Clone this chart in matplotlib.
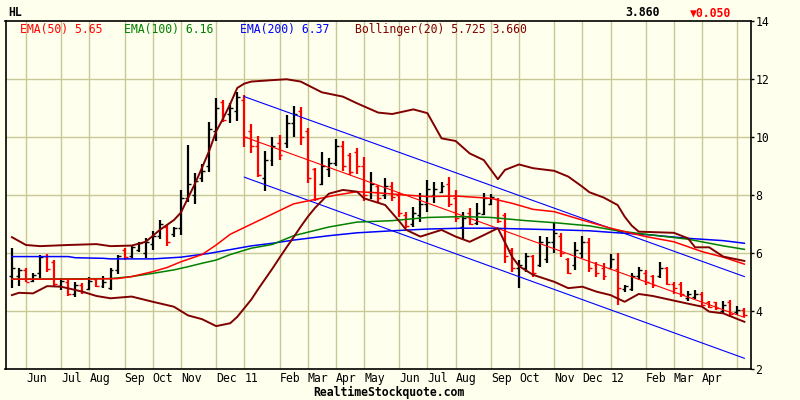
import matplotlib
matplotlib.use("Agg")
import matplotlib.pyplot as plt
import matplotlib.transforms as mtransforms

# weekly OHLC bars (week index 0..104)
opens  = [5.20,5.20,5.40,5.05,5.30,5.90,5.70,4.85,5.00,4.60,4.90,4.75,5.10,4.85,4.80,5.40,6.10,5.90,6.10,6.00,
          6.30,6.60,6.90,6.65,6.85,7.90,8.00,8.60,9.00,10.20,11.20,10.80,10.90,11.30,10.20,9.70,8.60,9.20,9.80,9.80,
          10.50,10.90,10.20,8.90,8.40,8.90,9.10,9.70,9.40,9.50,9.00,8.10,8.30,8.00,8.30,8.00,7.30,7.00,7.30,7.70,
          8.00,8.10,8.40,7.90,6.90,7.40,7.05,7.35,7.70,7.85,7.30,6.10,5.50,5.50,5.90,5.60,5.80,6.40,6.60,5.80,
          5.60,6.00,6.40,5.60,5.50,5.50,5.45,4.75,4.75,5.20,5.30,5.20,5.20,5.50,4.95,4.95,4.45,4.50,4.60,4.30,
          4.30,4.00,4.30,3.95,4.05]
highs  = [6.17,5.50,5.50,5.30,5.93,5.96,5.76,5.15,5.07,4.99,4.96,5.19,5.14,5.22,5.50,5.93,6.19,6.26,6.39,6.51,
          6.76,7.14,6.97,6.91,8.18,9.73,8.75,9.06,10.54,11.37,11.28,11.17,11.57,11.46,10.45,10.05,9.52,10.02,10.08,10.77,
          11.08,11.05,10.31,8.95,9.50,9.27,9.94,9.87,9.44,9.62,9.33,8.79,8.35,8.60,8.44,8.12,7.43,7.60,8.06,8.52,
          8.46,8.46,8.64,8.18,7.43,7.54,7.72,8.06,8.04,7.89,7.39,6.17,5.76,6.01,5.93,6.59,6.57,7.03,6.68,5.82,
          6.39,6.60,6.53,5.70,5.65,5.96,5.99,4.90,5.30,5.53,5.42,5.24,5.70,5.53,5.01,5.01,4.69,4.73,4.67,4.35,
          4.32,4.35,4.38,4.18,4.10]
lows   = [4.81,4.88,4.99,5.01,5.13,5.36,4.87,4.73,4.52,4.50,4.58,4.73,4.84,4.81,4.73,5.27,5.76,5.82,6.05,5.82,
          6.11,6.49,6.26,6.57,6.62,7.77,7.68,8.44,8.81,9.87,10.54,10.48,10.56,9.67,9.44,8.64,8.14,9.02,9.21,9.62,
          10.02,9.73,8.41,7.80,8.35,8.64,9.02,8.83,8.70,8.72,7.80,7.87,7.72,7.87,7.80,7.26,6.86,6.91,7.08,7.43,
          7.72,8.06,7.60,7.08,6.45,6.97,6.98,7.32,7.66,7.03,5.65,5.36,4.79,5.36,5.19,5.53,5.65,6.00,5.88,5.27,
          5.42,5.84,5.36,5.19,5.07,5.48,4.21,4.67,4.69,5.07,4.90,4.79,5.13,4.90,4.58,4.50,4.35,4.42,4.15,4.12,
          4.04,3.92,3.81,3.86,3.81]
closes = [5.50,5.40,5.00,5.25,5.85,5.45,4.95,5.05,4.60,4.90,4.65,5.05,4.85,5.00,5.40,5.90,5.85,6.20,6.35,6.40,
          6.60,7.00,6.40,6.85,7.90,8.40,8.50,8.85,10.30,11.00,10.60,11.00,11.40,10.00,9.70,8.70,9.20,9.70,9.40,10.50,
          10.80,10.00,8.60,7.85,9.00,9.10,9.70,9.00,8.80,9.00,8.00,8.40,7.90,8.30,7.95,7.40,6.95,7.40,7.70,8.20,
          8.20,8.30,7.70,7.20,7.20,7.00,7.40,7.90,7.95,7.10,5.90,5.50,5.60,5.90,5.30,6.40,6.40,6.70,6.00,5.30,
          6.10,6.40,5.50,5.30,5.20,5.80,4.80,4.85,5.20,5.40,5.00,4.90,5.50,4.95,4.80,4.60,4.60,4.60,4.20,4.15,
          4.10,4.20,3.90,4.05,3.86]

# indicator lines (week index, value)
ema50_x = [0,10,15,17,20,22,24,27,29,31,34,37,40,43,46,49,52,55,59,63,68,71,74,77,81,85,90,94,98,101,104]
ema50_v = [5.10,5.10,5.12,5.19,5.36,5.50,5.70,5.95,6.28,6.65,7.00,7.35,7.70,7.85,8.00,8.12,8.08,8.02,7.95,7.97,
           7.89,7.72,7.51,7.43,7.14,6.86,6.57,6.39,6.05,5.86,5.62]
ema100_x = [0,14,17,20,23,25,27,29,31,34,37,40,45,49,54,59,64,68,73,77,82,86,91,96,101,104]
ema100_v = [5.10,5.12,5.19,5.30,5.42,5.53,5.65,5.76,5.95,6.17,6.30,6.60,6.90,7.07,7.12,7.23,7.26,7.23,7.12,7.05,
            6.94,6.77,6.62,6.48,6.25,6.13]
ema200_x = [0,8,9,13,14,20,24,28,31,34,37,40,45,49,54,59,64,68,73,78,82,86,91,96,101,104]
ema200_v = [5.88,5.88,5.84,5.82,5.80,5.80,5.86,5.99,6.12,6.25,6.34,6.45,6.60,6.70,6.77,6.83,6.86,6.86,6.83,6.80,
            6.77,6.70,6.62,6.51,6.43,6.34]
bb_up_x = [0,2,4,8,12,14,17,19,21,23,24,25,26,27,28,29,30,31,32,33,34,37,39,41,44,47,49,52,54,57,59,61,63,65,67,
           69,70,72,74,77,79,81,82,84,86,87,88,89,94,96,97,99,101,104]
bb_up_v = [6.55,6.28,6.24,6.28,6.31,6.24,6.26,6.39,6.80,7.14,7.40,7.90,8.40,8.95,9.52,10.20,10.65,11.15,11.70,11.85,
           11.92,11.97,12.00,11.92,11.55,11.40,11.17,10.85,10.80,10.96,10.83,9.96,9.87,9.44,9.21,8.55,8.87,9.06,8.93,8.84,
           8.64,8.29,8.10,7.92,7.66,7.26,6.95,6.74,6.70,6.51,6.20,6.20,5.88,5.73]
bb_lo_x = [0,1,3,5,7,10,12,14,17,20,23,25,27,29,31,32,33,34,35,36,37,38,39,40,41,42,43,44,45,47,49,50,53,55,56,
           58,61,63,65,67,69,71,72,74,77,79,81,83,85,87,89,91,94,98,99,101,104]
bb_lo_v = [4.55,4.63,4.61,4.86,4.84,4.67,4.52,4.44,4.50,4.32,4.15,3.85,3.72,3.48,3.58,3.80,4.10,4.40,4.77,5.12,
           5.47,5.84,6.20,6.55,6.91,7.25,7.55,7.80,8.05,8.18,8.12,7.89,7.66,7.10,6.80,6.57,6.80,6.57,6.39,6.62,
           6.86,5.88,5.55,5.25,5.01,4.79,4.84,4.67,4.55,4.32,4.59,4.52,4.36,4.15,3.98,3.92,3.63]
# regression channel
reg_x = [33, 104]
reg_up = [11.40, 5.19]
reg_mid = [10.01, 3.78]
reg_lo = [8.62, 2.37]

month_pos = [2,7,11,16,20,24,29,33,38,42,46,50,55,59,63,68,72,77,81,85,90,94,98,103]
month_lbl = ["Jun","Jul","Aug","Sep","Oct","Nov","Dec","11","Feb","Mar","Apr","May",
             "Jun","Jul","Aug","Sep","Oct","Nov","Dec","12","Feb","Mar","Apr",""]
yticks = [2,4,6,8,10,12,14]

bg = "#ffffee"
gridc = "#c8c896"
mono = ["DejaVu Sans Mono", "DejaVu Sans"]
plt.rcParams["font.family"] = mono

fig = plt.figure(figsize=(8, 4), dpi=100, facecolor=bg)
ax = fig.add_axes([5.5/800, 1-369/400, (750.7-5.5)/800, (369-21.3)/400], facecolor=bg)

for x in month_pos:
  ax.axvline(x, color=gridc, lw=1.0, zorder=0)
for y in yticks[1:-1]:
  ax.axhline(y, color=gridc, lw=1.0, zorder=0)

# bars
for i in range(len(opens)):
  c = "black" if closes[i] >= opens[i] else "red"
  ax.vlines(i, lows[i], highs[i], color=c, lw=1.6, zorder=2)
  ax.hlines(opens[i], i-0.42, i, color=c, lw=1.0, zorder=2)
  ax.hlines(closes[i], i, i+0.42, color=c, lw=1.0, zorder=2)

ax.plot(reg_x, reg_up, color="blue", lw=0.8, zorder=3)
ax.plot(reg_x, reg_lo, color="blue", lw=0.8, zorder=3)
ax.plot(reg_x, reg_mid, color="red", lw=0.8, zorder=3)
ax.plot(ema200_x, ema200_v, color="blue", lw=1.1, zorder=3)
ax.plot(ema100_x, ema100_v, color="green", lw=1.1, zorder=3)
ax.plot(ema50_x, ema50_v, color="red", lw=1.1, zorder=3)
ax.plot(bb_up_x, bb_up_v, color="#800000", lw=1.4, zorder=4)
ax.plot(bb_lo_x, bb_lo_v, color="#800000", lw=1.4, zorder=4)

ax.set_xlim(-0.91, 104.9)
ax.set_ylim(2, 14)
ax.set_xticks(month_pos)
ax.set_xticklabels(month_lbl, fontsize=8.3)
for lbl in ax.get_xticklabels():
  lbl.set_horizontalalignment("left")
ax.tick_params(axis="x", length=0, pad=2)
ax.yaxis.tick_right()
ax.set_yticks(yticks)
ax.set_yticklabels([str(v) for v in yticks], fontsize=8.3)
ax.tick_params(axis="y", length=2, width=1, pad=1.5)
for s in ax.spines.values():
  s.set_linewidth(1.2)

# header texts
fig.text(8/800, 1-13/400, "HL", fontsize=8.3, fontweight="bold", va="center", ha="left")
fig.text(625/800, 1-13/400, "3.860", fontsize=8.3, fontweight="bold", va="center", ha="left")
fig.text(690/800, 1-13/400, "\u25bc0.050", fontsize=8.3, fontweight="bold", color="red", va="center", ha="left")
legend_items = [(20, "EMA(50) 5.65", "red"), (124, "EMA(100) 6.16", "green"),
                (240, "EMA(200) 6.37", "blue"), (355, "Bollinger(20) 5.725 3.660", "#800000")]
for x0, txt, c in legend_items:
  fig.text(x0/800, 1-30/400, txt, fontsize=8.3, color=c, va="center", ha="left")
fig.text(313/800, 1-392/400, "RealtimeStockquote.com", fontsize=8.3, fontweight="bold", va="center", ha="left")

fig.savefig("out.png", dpi=100, facecolor=bg)
